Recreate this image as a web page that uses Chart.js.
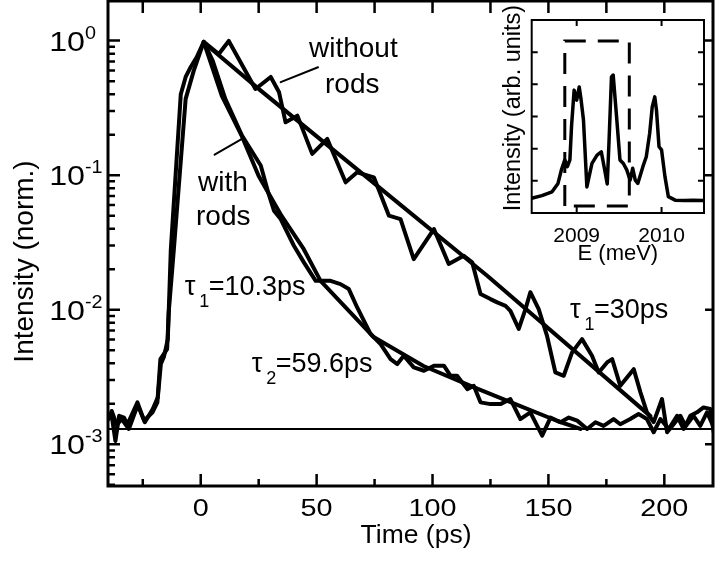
<!DOCTYPE html>
<html>
<head>
<meta charset="utf-8">
<script src="https://cdn.jsdelivr.net/npm/chart.js@4.4.0/dist/chart.umd.min.js"></script>
<style>
  html, body { margin: 0; padding: 0; background: #fff; }
  #wrap { position: relative; width: 715px; height: 562px; }
  #main { position: absolute; left: 0; top: 0; }
  #inset { position: absolute; left: 470px; top: 0; }
</style>
</head>
<body>
<div id="wrap">
  <canvas id="main" width="715" height="562"></canvas>
  <canvas id="inset" width="245" height="275"></canvas>
</div>
<script>
// --- main panel: time-resolved PL, log scale ---
const tWithout = [-39.7,-38.2,-36.8,-35.2,-33.1,-31.6,-27.3,-24.4,-20.8,-18.7,-17.4,-14.5,-13.8,-11.6,-6.5,-3.0,1.3,7.8,12.1,23.6,30.2,33.8,36.6,41.7,48.1,54.6,62.5,67.5,74.7,81.2,86.2,91.9,100.6,107.0,113.5,117.1,120.7,125.0,127.9,131.5,133.6,137.2,140.1,142.2,145.8,149.4,153.0,156.6,160.2,164.5,168.8,171.7,175.3,177.5,181.0,186.8,189.7,192.5,195.4,199.0,201.2,204.7,206.9,209.1,211.2,214.1,216.9,219.8,221.3];
const iWithout = [1.63e-3,1.54e-3,1.06e-3,1.63e-3,1.58e-3,1.41e-3,2.05e-3,1.50e-3,1.73e-3,2.05e-3,4.3e-3,5.1e-3,9.6e-3,0.028,0.369,0.598,0.978,0.796,0.995,0.437,0.537,0.413,0.247,0.277,0.144,0.186,0.0885,0.105,0.0964,0.050,0.0472,0.0238,0.0398,0.0219,0.0252,0.0225,0.0131,0.0120,0.01135,0.0107,9.8e-3,7.2e-3,0.0101,0.0135,0.0101,6.4e-3,3.42e-3,3.23e-3,4.82e-3,6.05e-3,4.55e-3,3.42e-3,4.06e-3,4.3e-3,2.72e-3,3.62e-3,2.43e-3,1.73e-3,1.46e-3,2.17e-3,1.23e-3,1.46e-3,1.63e-3,1.37e-3,1.63e-3,1.73e-3,1.88e-3,1.83e-3,1.23e-3];

const tWith = [-39.7,-38.4,-36.2,-34.1,-31.0,-27.2,-24.1,-20.7,-18.5,-17.2,-15.9,-14.2,-12.9,-8.6,-6.5,-4.3,-1.7,1.3,5.2,10.6,17.8,25.9,29.3,31.6,34.5,40.2,44.5,49.6,53.1,56.0,60.3,63.9,67.5,73.3,77.6,81.9,84.8,87.6,91.9,96.3,100.6,104.9,107.8,110.6,115.0,117.8,120.7,125.0,129.3,133.6,137.9,142.2,147.3,150.9,155.2,158.8,162.4,166.7,170.3,173.8,178.1,181.0,185.3,188.9,192.5,195.4,198.3,201.9,205.5,208.3,212.6,215.5,218.4,221.3];
const iWith = [1.54e-3,1.77e-3,1.39e-3,1.54e-3,1.30e-3,1.96e-3,1.46e-3,1.83e-3,2.24e-3,3.95e-3,4.45e-3,6.05e-3,0.028,0.40,0.537,0.637,0.756,0.978,0.706,0.369,0.197,0.118,0.0725,0.0545,0.0472,0.0299,0.0225,0.0164,0.0164,0.0164,0.0155,0.01425,0.0104,6.6e-3,5.56e-3,4.3e-3,3.95e-3,4.55e-3,3.73e-3,3.52e-3,3.84e-3,3.84e-3,3.23e-3,3.23e-3,2.57e-3,2.72e-3,2.05e-3,1.99e-3,1.99e-3,2.17e-3,1.54e-3,1.73e-3,1.16e-3,1.58e-3,1.46e-3,1.58e-3,1.50e-3,1.30e-3,1.46e-3,1.37e-3,1.54e-3,1.41e-3,1.54e-3,1.68e-3,1.54e-3,1.23e-3,1.54e-3,1.30e-3,1.63e-3,1.30e-3,1.63e-3,1.37e-3,1.73e-3,1.34e-3];

// fits
const tFitWith = [1.3, 9.1, 17.7, 25.0, 34.9, 44.4, 51.7, 63.2, 74.6, 96.1, 117.7, 137.9, 153.9, 163.8];
const iFitWith = [0.978, 0.388, 0.196, 0.0987, 0.0498, 0.0283, 0.0164, 0.0101, 6.27e-3, 3.82e-3, 2.66e-3, 1.92e-3, 1.49e-3, 1.30e-3];
const tFitWithout = [1.3, 25.9, 75, 123.6, 194];
const iFitWithout = [0.97, 0.425, 0.0865, 0.0179, 1.62e-3];

const bgLevel = 1.3e-3;
const xRange = [-40, 221];
const yRange = [4.9e-4, 1.97];

// leader lines for the curve labels (data units)
const leadWithoutT = [34.5, 50.6], leadWithoutI = [0.491, 0.634];
const leadWithT = [6.0, 17.8], leadWithI = [0.142, 0.186];

const xMajor = [0, 50, 100, 150, 200];
const xMinor = [-25, 25, 75, 125, 175];
const yMajor = [1e-3, 1e-2, 1e-1, 1];
const yExp = ['-3', '-2', '-1', '0'];

// --- inset: PL spectrum ---
const eSpec = [2008.47,2008.59,2008.71,2008.78,2008.82,2008.86,2008.89,2008.92,2008.94,2008.97,2009.00,2009.03,2009.05,2009.08,2009.12,2009.18,2009.24,2009.29,2009.33,2009.36,2009.38,2009.41,2009.43,2009.47,2009.51,2009.55,2009.59,2009.63,2009.66,2009.69,2009.72,2009.78,2009.82,2009.86,2009.89,2009.92,2009.94,2009.97,2010.00,2010.04,2010.08,2010.16,2010.27,2010.37,2010.49];
const iSpec = [0.46,0.54,0.66,0.92,1.34,1.65,1.44,1.65,2.73,3.82,3.51,3.92,3.56,2.89,0.81,1.54,1.80,1.90,1.34,0.90,2.16,4.23,4.29,2.99,1.65,1.54,1.34,1.02,1.39,1.02,0.92,1.44,1.75,2.48,3.30,3.61,3.20,2.06,1.96,1.13,0.51,0.40,0.39,0.40,0.39];
const boxE = [2008.86, 2008.86, 2009.62, 2009.62, 2008.86];
const boxI = [0.22, 5.35, 5.35, 0.22, 0.22];
const insetXTicks = [2009, 2010];
const insetYTicks = [1, 2, 3, 4, 5];

const FONT = '"Liberation Sans", Arial, sans-serif';
const pts = (xs, ys) => xs.map((v, i) => ({x: v, y: ys[i]}));

function txt(ctx, s, x, y, size, align, sx) {
  ctx.save();
  ctx.font = size + 'px ' + FONT;
  ctx.textAlign = align || 'left';
  ctx.textBaseline = 'alphabetic';
  ctx.translate(x, y);
  ctx.scale(sx || 1, 1);
  ctx.fillText(s, 0, 0);
  ctx.restore();
}

function tau(ctx, x, y, sub, rest) {
  txt(ctx, '\u03c4', x, y, 27);
  txt(ctx, sub, x + 14.5, y + 12, 18);
  txt(ctx, rest, x + 24, y, 27);
}

const line = (data, w) => ({
  data, borderColor: '#000', borderWidth: w, pointRadius: 0, fill: false,
  tension: 0, borderJoinStyle: 'round', borderCapStyle: 'round'
});

const mainFrame = {
  id: 'mainFrame',
  afterDraw(chart) {
    const {ctx, chartArea: a, scales: {x, y}} = chart;
    ctx.save();
    ctx.strokeStyle = '#000';
    ctx.fillStyle = '#000';
    ctx.lineWidth = 3;
    ctx.strokeRect(a.left, a.top, a.right - a.left, a.bottom - a.top);

    ctx.lineWidth = 2.5;
    ctx.beginPath();
    xMajor.forEach(v => {
      const p = x.getPixelForValue(v);
      ctx.moveTo(p, a.bottom); ctx.lineTo(p, a.bottom - 12);
      ctx.moveTo(p, a.top); ctx.lineTo(p, a.top + 12);
    });
    xMinor.forEach(v => {
      const p = x.getPixelForValue(v);
      ctx.moveTo(p, a.bottom); ctx.lineTo(p, a.bottom - 7);
      ctx.moveTo(p, a.top); ctx.lineTo(p, a.top + 12);
    });
    yMajor.forEach(v => {
      const p = y.getPixelForValue(v);
      ctx.moveTo(a.left, p); ctx.lineTo(a.left + 12, p);
      ctx.moveTo(a.right, p); ctx.lineTo(a.right - 8, p);
    });
    [1e-4, 1e-3, 1e-2, 1e-1, 1].forEach(d => {
      for (let m = 2; m <= 9; m++) {
        const v = d * m;
        if (v < yRange[0] || v > yRange[1]) continue;
        const p = y.getPixelForValue(v);
        ctx.moveTo(a.left, p); ctx.lineTo(a.left + 7, p);
      }
    });
    ctx.stroke();

    // tick labels
    xMajor.forEach(v => txt(ctx, String(v), x.getPixelForValue(v), 515.5, 24, 'center', 1.2));
    yMajor.forEach((v, i) => {
      const p = y.getPixelForValue(v);
      txt(ctx, '10', 85, p + 10, 28, 'right', 1.15);
      txt(ctx, yExp[i], 85, p - 2, 18, 'left', 1.1);
    });

    // axis titles
    txt(ctx, 'Time (ps)', 416, 543, 25, 'center', 1.06);
    ctx.save();
    ctx.translate(33, 261.5);
    ctx.rotate(-Math.PI / 2);
    txt(ctx, 'Intensity (norm.)', 0, 0, 28, 'center');
    ctx.restore();

    // curve labels
    txt(ctx, 'without', 309, 57, 28);
    txt(ctx, 'rods', 325, 92.5, 28);
    txt(ctx, 'with', 198, 190.5, 28);
    txt(ctx, 'rods', 196, 224.5, 28);
    tau(ctx, 184.7, 295, '1', '=10.3ps');
    tau(ctx, 251.7, 371.5, '2', '=59.6ps');
    tau(ctx, 570, 318.3, '1', '=30ps');
    ctx.restore();
  }
};

new Chart(document.getElementById('main'), {
  type: 'line',
  data: {
    datasets: [
      line(pts(xRange, [bgLevel, bgLevel]), 2),
      line(pts(tFitWithout, iFitWithout), 4),
      line(pts(tFitWith, iFitWith), 4),
      line(pts(tWithout, iWithout), 4),
      line(pts(tWith, iWith), 4),
      line(pts(leadWithoutT, leadWithoutI), 2),
      line(pts(leadWithT, leadWithI), 2)
    ]
  },
  options: {
    responsive: false,
    animation: false,
    layout: { padding: { top: 1, right: 2, left: 0, bottom: 0 } },
    plugins: { legend: { display: false }, tooltip: { enabled: false } },
    scales: {
      x: {
        type: 'linear', min: xRange[0], max: xRange[1],
        grid: { display: false }, border: { display: false }, ticks: { display: false },
        afterFit: s => { s.height = 76; }
      },
      y: {
        type: 'logarithmic', min: yRange[0], max: yRange[1],
        grid: { display: false }, border: { display: false }, ticks: { display: false },
        afterFit: s => { s.width = 108; }
      }
    }
  },
  plugins: [mainFrame]
});

const insetFrame = {
  id: 'insetFrame',
  beforeDatasetsDraw(chart) {
    const {ctx, chartArea: a} = chart;
    ctx.save();
    ctx.fillStyle = '#fff';
    ctx.fillRect(a.left, a.top, a.right - a.left, a.bottom - a.top);
    ctx.restore();
  },
  afterDraw(chart) {
    const {ctx, chartArea: a, scales: {x, y}} = chart;
    ctx.save();
    ctx.strokeStyle = '#000';
    ctx.fillStyle = '#000';
    ctx.lineWidth = 2;
    ctx.strokeRect(a.left, a.top, a.right - a.left, a.bottom - a.top);
    ctx.beginPath();
    insetXTicks.forEach(v => {
      const p = x.getPixelForValue(v);
      ctx.moveTo(p, a.bottom); ctx.lineTo(p, a.bottom - 6);
      ctx.moveTo(p, a.top); ctx.lineTo(p, a.top + 6);
    });
    insetYTicks.forEach(v => {
      const p = y.getPixelForValue(v);
      ctx.moveTo(a.left, p); ctx.lineTo(a.left + 6, p);
      ctx.moveTo(a.right, p); ctx.lineTo(a.right - 6, p);
    });
    ctx.stroke();
    insetXTicks.forEach(v => txt(ctx, String(v), x.getPixelForValue(v), 241.5, 21, 'center'));
    txt(ctx, 'E (meV)', (a.left + a.right) / 2, 260, 22, 'center');
    ctx.save();
    ctx.translate(49.5, 108);
    ctx.rotate(-Math.PI / 2);
    txt(ctx, 'Intensity (arb. units)', 0, 0, 23.5, 'center');
    ctx.restore();
    ctx.restore();
  }
};

const boxSet = line(pts(boxE, boxI), 3);
boxSet.borderDash = [21, 12];
boxSet.borderJoinStyle = 'miter';
boxSet.borderCapStyle = 'butt';

new Chart(document.getElementById('inset'), {
  type: 'line',
  data: {
    datasets: [
      line(pts(eSpec, iSpec), 3.5),
      boxSet
    ]
  },
  options: {
    responsive: false,
    animation: false,
    layout: { padding: { top: 20, right: 11, left: 0, bottom: 0 } },
    plugins: { legend: { display: false }, tooltip: { enabled: false } },
    scales: {
      x: {
        type: 'linear', min: 2008.47, max: 2010.5,
        grid: { display: false }, border: { display: false }, ticks: { display: false },
        afterFit: s => { s.height = 62; }
      },
      y: {
        type: 'linear', min: 0, max: 6,
        grid: { display: false }, border: { display: false }, ticks: { display: false },
        afterFit: s => { s.width = 61.7; }
      }
    }
  },
  plugins: [insetFrame]
});
</script>
</body>
</html>
